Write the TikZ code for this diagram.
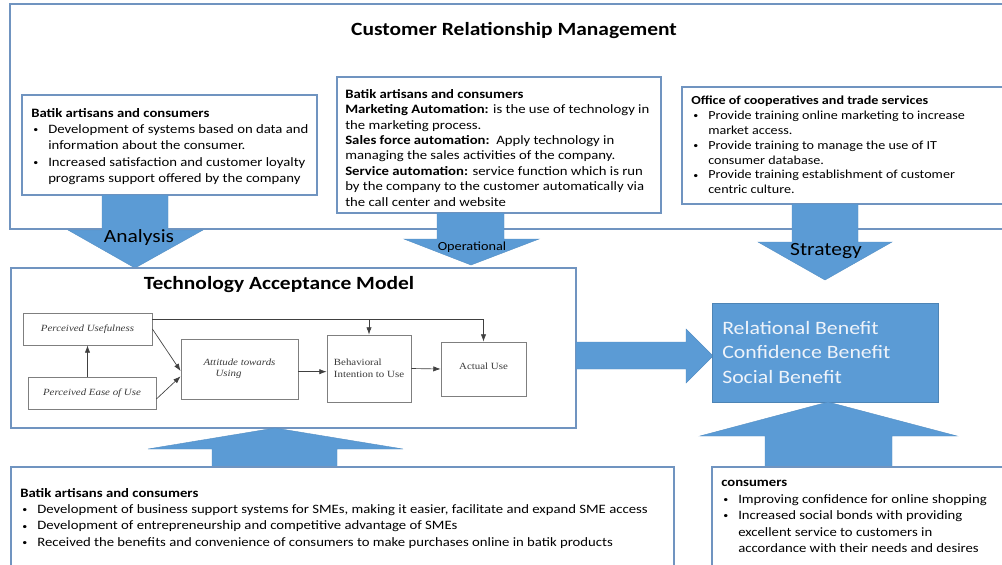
\documentclass[tikz,border=0pt]{standalone}
\usepackage{fontspec}
\setmainfont{Carlito}[FakeStretch=1.15]
\newfontfamily\tnr{Liberation Serif}[FakeStretch=1.15]
\usetikzlibrary{arrows.meta}
\definecolor{cblue}{HTML}{5B9BD5}
\definecolor{bord}{HTML}{7094C0}
\definecolor{gbox}{HTML}{7F7F7F}
\definecolor{gtext}{HTML}{3A3A3A}
\definecolor{btext}{HTML}{EEF3FA}
\newcommand{\bl}{\hspace*{1.5pt}\makebox[11.25pt][l]{\raisebox{0.6pt}{\fontsize{6.5}{6.5}\selectfont\textbullet}}}
\newcommand{\cn}{\hspace*{12.75pt}}
\begin{document}
\begin{tikzpicture}[x=0.75pt,y=-0.75pt,
  frame/.style={draw=bord,line width=0.8pt},
  txt/.style={anchor=north west,inner sep=0pt,align=left,font=\fontsize{9.6}{12.2}\selectfont},
  ttl/.style={inner sep=0pt,font=\bfseries\fontsize{14}{16}\selectfont},
  blk/.style={fill=cblue,draw=cblue!92!black,line width=0.3pt},
  tbox/.style={draw=gbox,line width=0.6pt,inner sep=0pt,text=gtext,font=\tnr\itshape\fontsize{7.1}{9}\selectfont},
  tarr/.style={draw=black!75,line width=0.5pt,-{Latex[length=5.5pt,width=4pt]}}]
\useasboundingbox (0,0) rectangle (1002,564);
\fill[white] (0,0) rectangle (1002,564);
\clip (0,0) rectangle (1002,564);

% CRM outer frame
\draw[frame] (10,4) rectangle (1010,229);
\node[ttl] (crm) at (514,31) {Customer Relationship Management};

% Box A
\draw[frame,fill=white] (22,95) rectangle (317,195);
\node[txt] (ta) at (31,108) {\textbf{Batik artisans and consumers}\\
\bl Development of systems based on data and\\
\cn information about the consumer.\\
\bl Increased satisfaction and customer loyalty\\
\cn programs support offered by the company};

% Box B
\draw[frame,fill=white] (337,77) rectangle (661,213);
\node[txt,font=\fontsize{9.6}{11.55}\selectfont] (tb) at (345,89) {\textbf{Batik artisans and consumers}\\
\textbf{Marketing Automation:} is the use of technology in\\
the marketing process.\\
\textbf{Sales force automation:}\ \ Apply technology in\\
managing the sales activities of the company.\\
\textbf{Service automation:} service function which is run\\
by the company to the customer automatically via\\
the call center and website};

% Box C
\draw[frame,fill=white] (682,87) rectangle (1010,204);
\node[txt,font=\fontsize{9.2}{11.1}\selectfont] (tc) at (691,96) {\textbf{Office of cooperatives and trade services}\\
\bl Provide training online marketing to increase\\
\cn market access.\\
\bl Provide training to manage the use of IT\\
\cn consumer database.\\
\bl Provide training establishment of customer\\
\cn centric culture.};

% Down arrows
\fill[blk] (102,195) -- (168,195) -- (168,230) -- (203,230) -- (135,268) -- (68,230) -- (102,230) -- cycle;
\node[inner sep=0pt,font=\fontsize{14}{16}\selectfont] (lana) at (139,238) {Analysis};
\fill[blk] (437,213) -- (504,213) -- (504,239) -- (539,239) -- (471,265) -- (404,239) -- (437,239) -- cycle;
\node[inner sep=0pt,font=\fontsize{9.3}{11}\selectfont] (lope) at (472,247) {Operational};
\fill[blk] (792,204) -- (858,204) -- (858,242) -- (892,242) -- (825,280) -- (758,242) -- (792,242) -- cycle;
\node[inner sep=0pt,font=\fontsize{14}{16}\selectfont] (lstr) at (826,251) {Strategy};

% TAM frame
\draw[frame] (11,268) rectangle (576,428);
\node[ttl] (tam) at (279,285) {Technology Acceptance Model};

\node[tbox,minimum width=96.75pt,minimum height=24pt] (pu) at (87.5,329) {Perceived Usefulness};
\node[tbox,minimum width=96pt,minimum height=24pt] (peou) at (92,393) {Perceived Ease of Use};
\node[tbox,minimum width=87.75pt,minimum height=45pt,align=left] (att) at (239.5,369) {Attitude towards\\[-1pt]\hspace*{9pt}Using};
\node[tbox,minimum width=63pt,minimum height=50.25pt,align=left,font=\tnr\fontsize{7.1}{9}\selectfont] (beh) at (369,368.5) {Behavioral\\Intention to Use};
\node[tbox,minimum width=63.75pt,minimum height=40.5pt,font=\tnr\fontsize{7.1}{9}\selectfont] (act) at (483.5,369) {\raisebox{4pt}{Actual Use}};

\draw[tarr] (pu.south |- peou.north) -- (pu.south);
\draw[tarr] (pu.east) -- ([yshift=-1.5pt]att.west);
\draw[tarr] ([yshift=-4.5pt]peou.east) -- ([yshift=-5.5pt]att.west);
\coordinate (ts) at ([yshift=7.5pt]pu.east);
\draw[tarr] (ts) -| (act.north);
\draw[tarr] (ts -| beh.north) -- (beh.north);
\draw[tarr] ([yshift=-2pt]att.east) -- ([yshift=-2pt]att.east -| beh.west);
\draw[tarr] (beh.east) -- (act.west);

% Right arrow and benefits
\fill[blk] (576,342) -- (686,342) -- (686,329) -- (713,356) -- (686,383) -- (686,369) -- (576,369) -- cycle;
\draw[fill=cblue,draw=cblue!85!black,line width=0.4pt] (712,303) rectangle (938,402);
\node[anchor=north west,inner sep=0pt,align=left,text=btext,font=\fontsize{14.2}{18.4}\selectfont] (ben) at (722,321) {Relational Benefit\\Confidence Benefit\\Social Benefit};

% Up arrows
\fill[blk] (212,467) -- (212,449) -- (148,449) -- (275,428) -- (403,449) -- (337,449) -- (337,467) -- cycle;
\fill[blk] (765,467) -- (765,436) -- (700,436) -- (828,402) -- (957,436) -- (892,436) -- (892,467) -- cycle;

% Bottom boxes
\draw[frame] (11,467) rectangle (674,600);
\node[txt] (td) at (20,488) {\textbf{Batik artisans and consumers}\\
\bl Development of business support systems for SMEs, making it easier, facilitate and expand SME access\\
\bl Development of entrepreneurship and competitive advantage of SMEs\\
\bl Received the benefits and convenience of consumers to make purchases online in batik products};

\draw[frame] (712,467) rectangle (1010,600);
\node[txt,font=\fontsize{9.6}{12.4}\selectfont] (te) at (721,480) {\textbf{consumers}\\
\bl Improving confidence for online shopping\\
\bl Increased social bonds with providing\\
\cn excellent service to customers in\\
\cn accordance with their needs and desires};
\end{tikzpicture}
\end{document}
